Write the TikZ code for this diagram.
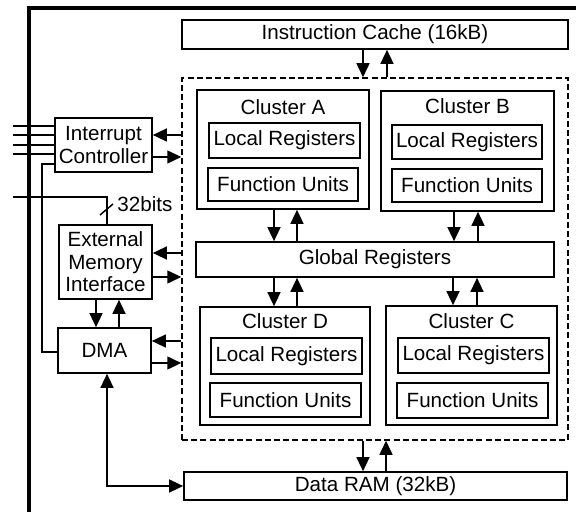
\documentclass[tikz,border=0pt]{standalone}
\usepackage{fontspec}
\setmainfont{Liberation Sans}
\usetikzlibrary{arrows.meta}
\newcommand{\lblfont}{\fontsize{10.3}{11.3}\selectfont}
\begin{document}
\begin{tikzpicture}[x=0.5pt,y=-0.5pt,
  box/.style={draw, line width=0.85pt, inner sep=0pt, align=center, font=\lblfont},
  title/.style={inner sep=0pt, font=\lblfont},
  wire/.style={line width=0.75pt},
  arw/.style={wire, -{Triangle[length=7pt,width=6.5pt]}},
  darw/.style={wire, {Triangle[length=7pt,width=6.5pt]}-{Triangle[length=7pt,width=6.5pt]}},
  chip/.style={line width=1.7pt},
  core/.style={draw, dash pattern=on 3pt off 1.6pt, line width=0.75pt, inner sep=0pt}]
\useasboundingbox (0,0) rectangle (576,512);

% chip boundary
\draw[chip] (29,520) -- (29,8) -- (584,8);

% processor core and memories
\node[core, minimum width=193pt, minimum height=181pt] (dash) at (375,259) {};
\node[box, minimum width=193pt, minimum height=14.5pt] (icache) at (375,34.5) {Instruction Cache (16kB)};
\node[box, minimum width=191.5pt, minimum height=14pt] (ram) at (375.5,486) {Data RAM (32kB)};

% clusters
\node[box, minimum width=86pt, minimum height=59.5pt] (clA) at (283,149.5) {};
\node[title] at ([yshift=-9pt]clA.north) {Cluster A};
\node[box, minimum width=75.5pt, minimum height=17.5pt] (lrA) at (284.5,140.5) {Local Registers};
\node[box, minimum width=75pt, minimum height=16.5pt] (fuA) at (283,184.5) {Function Units};

\node[box, minimum width=86.5pt, minimum height=60pt] (clB) at (467.5,151) {};
\node[title] at ([yshift=-8pt]clB.north) {Cluster B};
\node[box, minimum width=75pt, minimum height=17pt] (lrB) at (467,142) {Local Registers};
\node[box, minimum width=75pt, minimum height=16.5pt] (fuB) at (467,185.5) {Function Units};

\node[box, minimum width=179pt, minimum height=17.5pt] (glob) at (375,259.5) {Global Registers};

\node[box, minimum width=85pt, minimum height=59pt] (clD) at (285,366) {};
\node[title] at ([yshift=-7.5pt]clD.north) {Cluster D};
\node[box, minimum width=75.5pt, minimum height=18pt] (lrD) at (286.5,356) {Local Registers};
\node[box, minimum width=75.5pt, minimum height=17pt] (fuD) at (285.5,400) {Function Units};

\node[box, minimum width=85.5pt, minimum height=59.5pt] (clC) at (471.5,365.5) {};
\node[title] at ([yshift=-8pt]clC.north) {Cluster C};
\node[box, minimum width=75.5pt, minimum height=17.5pt] (lrC) at (473.5,355.5) {Local Registers};
\node[box, minimum width=75.5pt, minimum height=17.5pt] (fuC) at (472.5,400.5) {Function Units};

% peripherals
\node[box, minimum width=48.5pt, minimum height=27pt] (intc) at (103.5,145) {Interrupt\\Controller};
\node[box, minimum width=46.5pt, minimum height=37pt] (emi) at (105.5,262) {External\\Memory\\Interface};
\node[box, minimum width=46.5pt, minimum height=22.5pt] (dma) at (104.5,350.5) {DMA};

% column and row positions of the links
\coordinate (xIcDn) at (363,0);  \coordinate (xIcUp) at (387,0);
\coordinate (xAdn) at (274,0);   \coordinate (xAup) at (297,0);
\coordinate (xBdn) at (454,0);   \coordinate (xBup) at (478,0);
\coordinate (xDdn) at (274,0);   \coordinate (xDup) at (297,0);
\coordinate (xCdn) at (453,0);   \coordinate (xCup) at (477,0);
\coordinate (xRdn) at (363,0);   \coordinate (xRup) at (386,0);
\coordinate (xEdn) at (96,0);    \coordinate (xEup) at (119,0);
\coordinate (xDma) at (107,0);
\coordinate (xBus) at (107,0);
\coordinate (xIrq) at (42,0);
\coordinate (yI1) at (0,135);    \coordinate (yI2) at (0,157);
\coordinate (yE1) at (0,253);    \coordinate (yE2) at (0,277);
\coordinate (yD1) at (0,341);    \coordinate (yD2) at (0,363);
\coordinate (yIrq) at (0,164);   \coordinate (yIrqD) at (0,352);

% instruction cache and data RAM links
\draw[arw] (icache.south -| xIcDn) -- (dash.north -| xIcDn);
\draw[arw] (dash.north -| xIcUp) -- (icache.south -| xIcUp);
\draw[arw] (dash.south -| xRdn) -- (ram.north -| xRdn);
\draw[arw] (ram.north -| xRup) -- (dash.south -| xRup);

% cluster to global register links
\draw[arw] (clA.south -| xAdn) -- (glob.north -| xAdn);
\draw[arw] (glob.north -| xAup) -- (clA.south -| xAup);
\draw[arw] (clB.south -| xBdn) -- (glob.north -| xBdn);
\draw[arw] (glob.north -| xBup) -- (clB.south -| xBup);
\draw[arw] (glob.south -| xDdn) -- (clD.north -| xDdn);
\draw[arw] (clD.north -| xDup) -- (glob.south -| xDup);
\draw[arw] (glob.south -| xCdn) -- (clC.north -| xCdn);
\draw[arw] (clC.north -| xCup) -- (glob.south -| xCup);

% core to peripheral links
\draw[arw] (dash.west |- yI1) -- (intc.east |- yI1);
\draw[arw] (intc.east |- yI2) -- (dash.west |- yI2);
\draw[arw] (dash.west |- yE1) -- (emi.east |- yE1);
\draw[arw] (emi.east |- yE2) -- (dash.west |- yE2);
\draw[arw] (dash.west |- yD1) -- (dma.east |- yD1);
\draw[arw] (dma.east |- yD2) -- (dash.west |- yD2);

% memory interface and DMA
\draw[arw] (emi.south -| xEdn) -- (dma.north -| xEdn);
\draw[arw] (dma.north -| xEup) -- (emi.south -| xEup);
\draw[darw] (dma.south -| xDma) |- (ram.west);

% interrupt lines
\foreach \yy [count=\i] in {126,135,145,154} {
  \coordinate (irq\i) at (13,\yy);
  \draw[wire] (irq\i) -- (irq\i -| intc.west);
}
\draw[wire] (intc.west |- yIrq) -| (xIrq |- yIrqD) -- (dma.west |- yIrqD);

% external memory bus
\coordinate (busIn) at (13,197);
\draw[wire] (busIn) -| (emi.north -| xBus);
\coordinate (tickA) at (100,215);
\coordinate (tickB) at (113,204);
\draw[wire] (tickA) -- (tickB);
\node[title, anchor=west] (buslbl) at (117,204) {32bits};
\end{tikzpicture}
\end{document}
